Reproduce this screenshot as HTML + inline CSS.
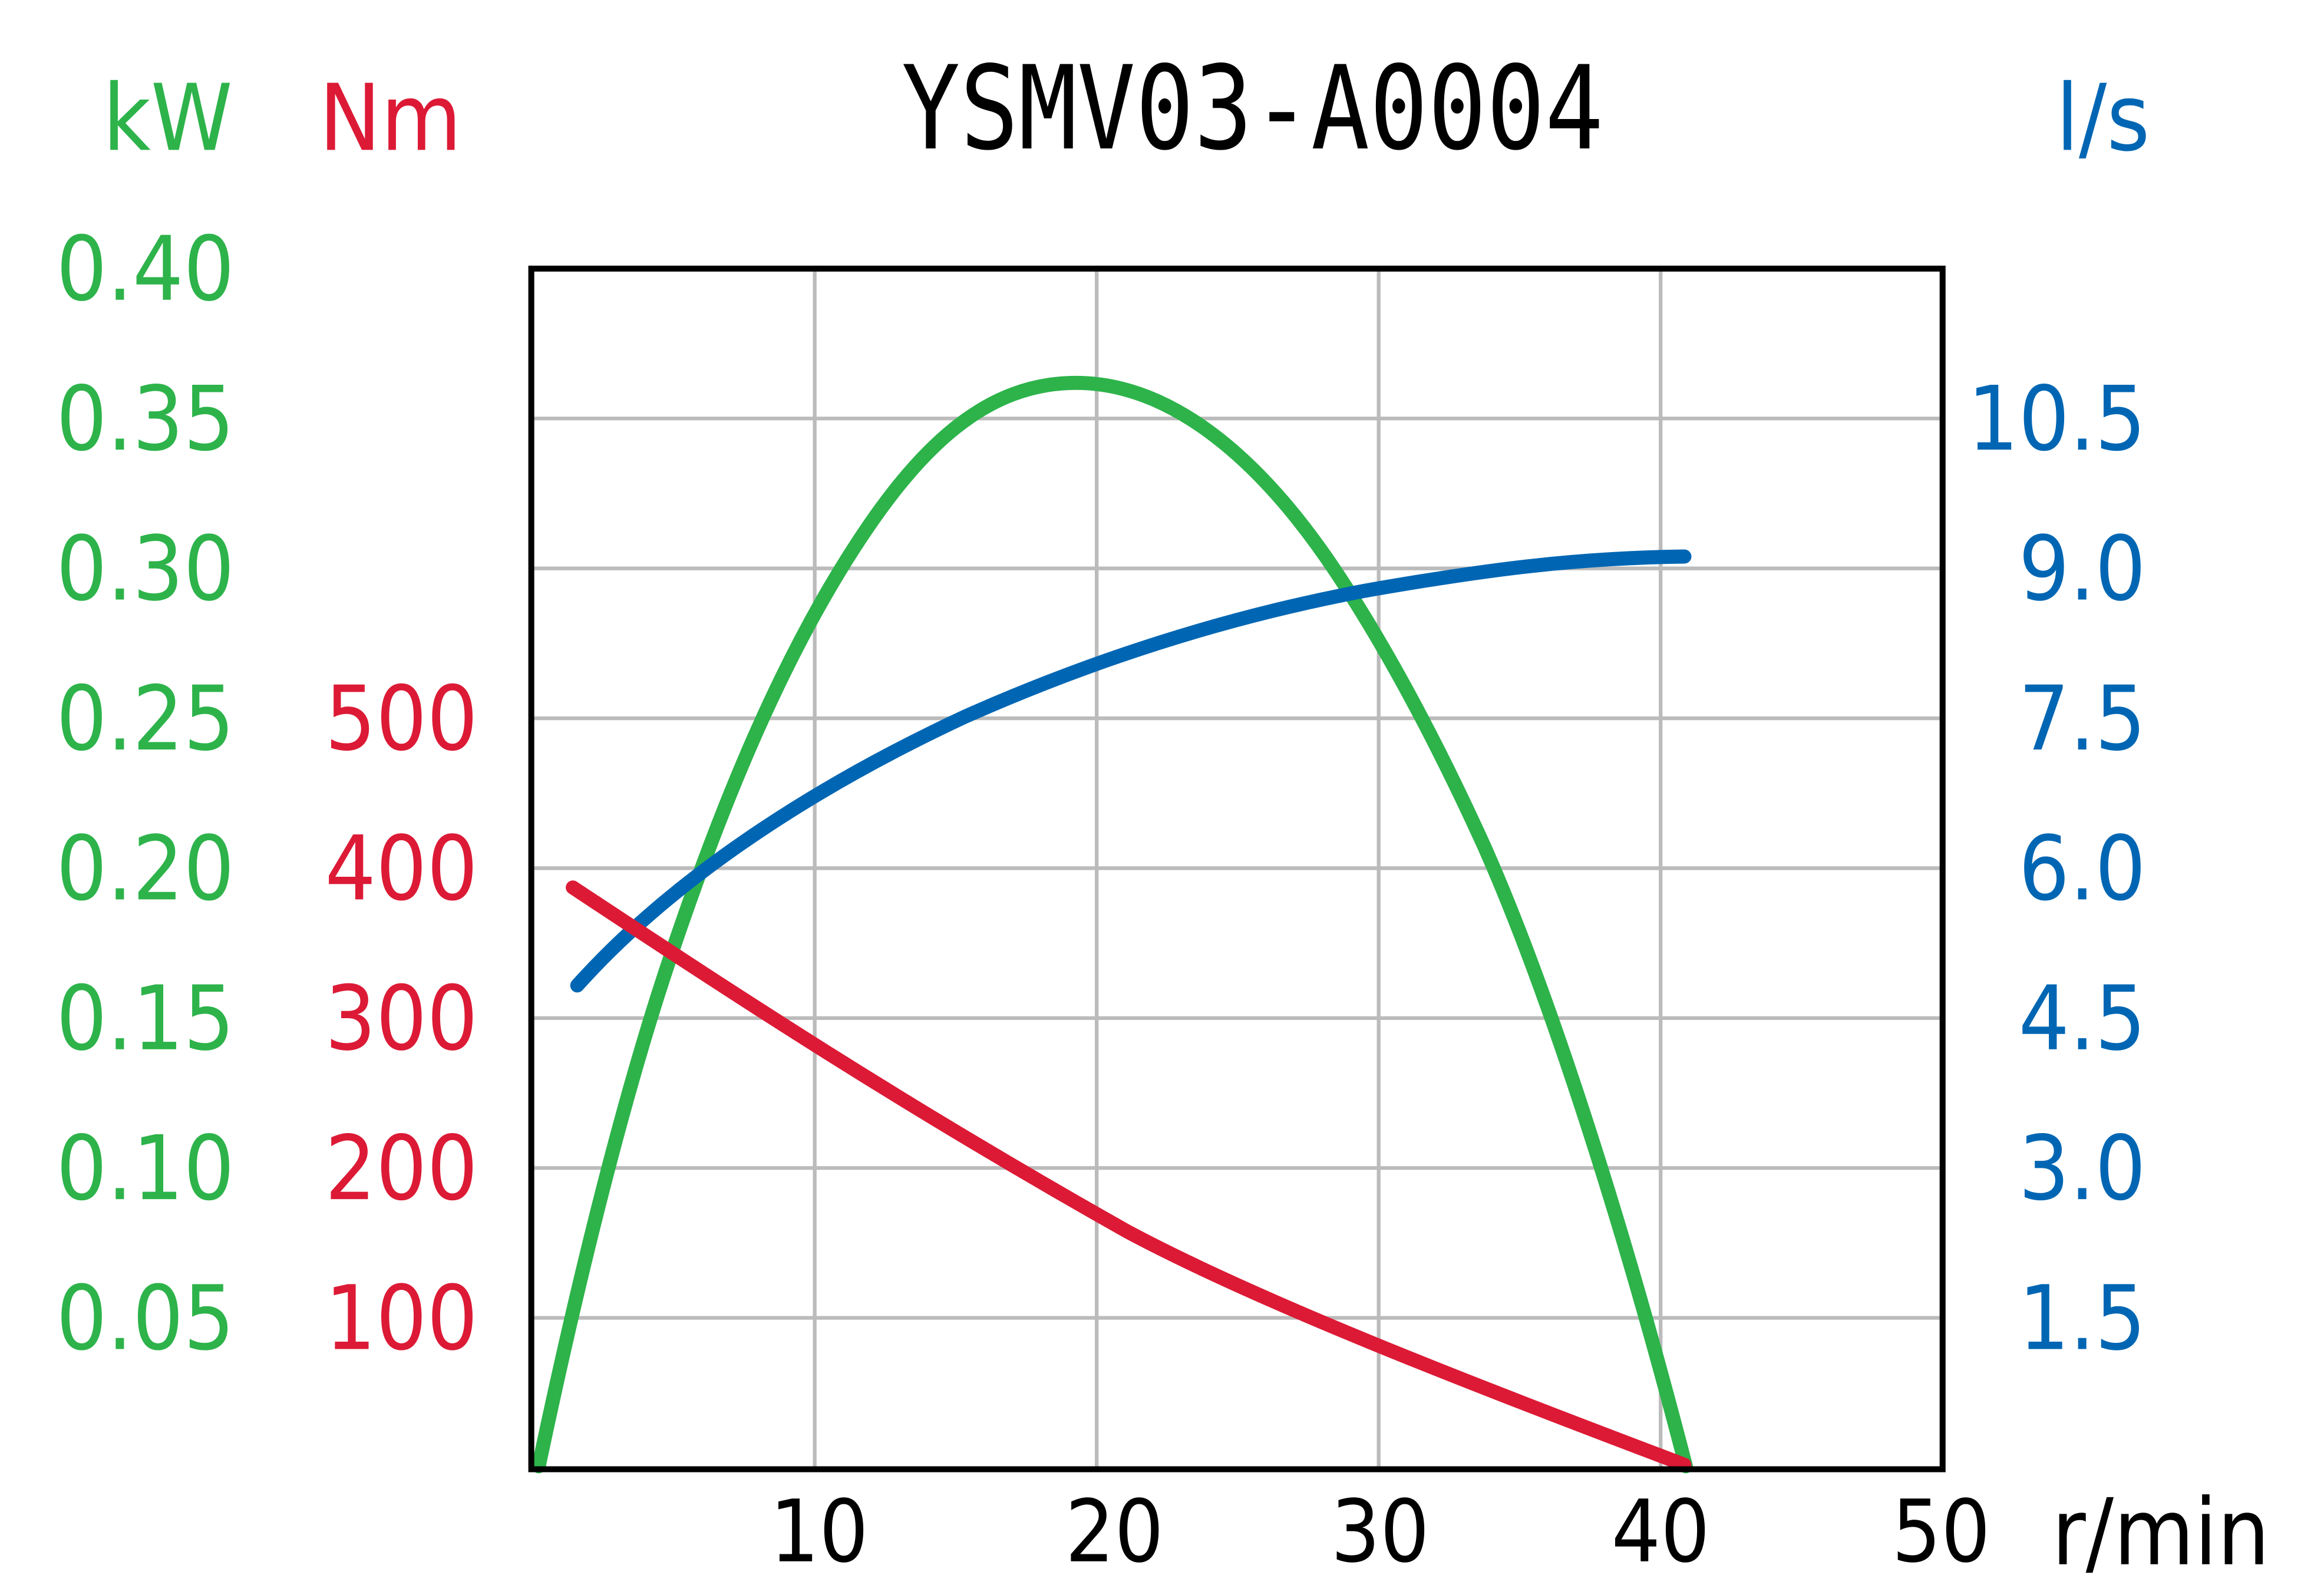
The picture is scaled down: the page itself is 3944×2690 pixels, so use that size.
<!DOCTYPE html>
<html><head><meta charset="utf-8"><style>html,body{margin:0;padding:0;background:#fff}svg{display:block}</style></head>
<body>
<svg width="3944" height="2690" viewBox="0 0 1566 1068" preserveAspectRatio="none" xmlns="http://www.w3.org/2000/svg" font-family="'DejaVu Sans Condensed','Liberation Sans',sans-serif">
<rect width="1566" height="1068" fill="#fff"/>
<g stroke="#bbb" stroke-width="2.5">
<line x1="549" y1="181" x2="549" y2="990"/><line x1="739" y1="181" x2="739" y2="990"/>
<line x1="929" y1="181" x2="929" y2="990"/><line x1="1119" y1="181" x2="1119" y2="990"/>
<line x1="358" y1="282" x2="1309" y2="282"/><line x1="358" y1="383" x2="1309" y2="383"/>
<line x1="358" y1="484" x2="1309" y2="484"/><line x1="358" y1="585" x2="1309" y2="585"/>
<line x1="358" y1="686" x2="1309" y2="686"/><line x1="358" y1="787" x2="1309" y2="787"/>
<line x1="358" y1="888" x2="1309" y2="888"/>
</g>
<g fill="none" stroke-width="9.5" stroke-linecap="round" stroke-linejoin="round">
<path d="M363,988 C390,860 420,740 450,650 C490,530 530,440 575,370 C620,300 665,258 725,258 C790,258 850,310 900,385 C940,445 975,515 1000,570 C1040,660 1090,810 1136,988" stroke="#2db34a"/>
<path d="M389,664 C460,585 560,525 650,483 C740,443 830,415 920,398 C1000,384 1060,376 1135,375" stroke="#0066b3"/>
<path d="M386,598 C480,660 600,740 760,830 C850,878 990,932 1135,987" stroke="#dc1a35"/>
</g>
<rect x="358" y="181" width="951" height="809" fill="none" stroke="#000" stroke-width="4"/>
<text x="844" y="100" font-size="78" text-anchor="middle" fill="#000" font-family="'DejaVu Sans Mono','Liberation Mono',monospace" textLength="473" lengthAdjust="spacingAndGlyphs">YSMV03-A0004</text>
<g font-size="62">
<text x="113" y="101" fill="#2db34a" text-anchor="middle">kW</text>
<text x="263" y="101" fill="#dc1a35" text-anchor="middle">Nm</text>
<text x="1417" y="101" fill="#0066b3" text-anchor="middle">l/s</text>
</g>
<g font-size="60" fill="#2db34a" text-anchor="end">
<text x="158" y="202">0.40</text><text x="158" y="303">0.35</text><text x="158" y="404">0.30</text>
<text x="158" y="505">0.25</text><text x="158" y="606">0.20</text><text x="158" y="707">0.15</text>
<text x="158" y="808">0.10</text><text x="158" y="909">0.05</text>
</g>
<g font-size="60" fill="#dc1a35" text-anchor="end">
<text x="322" y="505">500</text><text x="322" y="606">400</text><text x="322" y="707">300</text>
<text x="322" y="808">200</text><text x="322" y="909">100</text>
</g>
<g font-size="60" fill="#0066b3" text-anchor="end">
<text x="1446" y="303">10.5</text><text x="1446" y="404">9.0</text><text x="1446" y="505">7.5</text>
<text x="1446" y="606">6.0</text><text x="1446" y="707">4.5</text><text x="1446" y="808">3.0</text>
<text x="1446" y="909">1.5</text>
</g>
<g font-size="58" fill="#000" text-anchor="middle">
<text x="552" y="1052">10</text><text x="751" y="1052">20</text><text x="930" y="1052">30</text>
<text x="1119" y="1052">40</text><text x="1308" y="1052">50</text>
<text x="1456" y="1054" font-size="62">r/min</text>
</g>
</svg>
</body></html>
